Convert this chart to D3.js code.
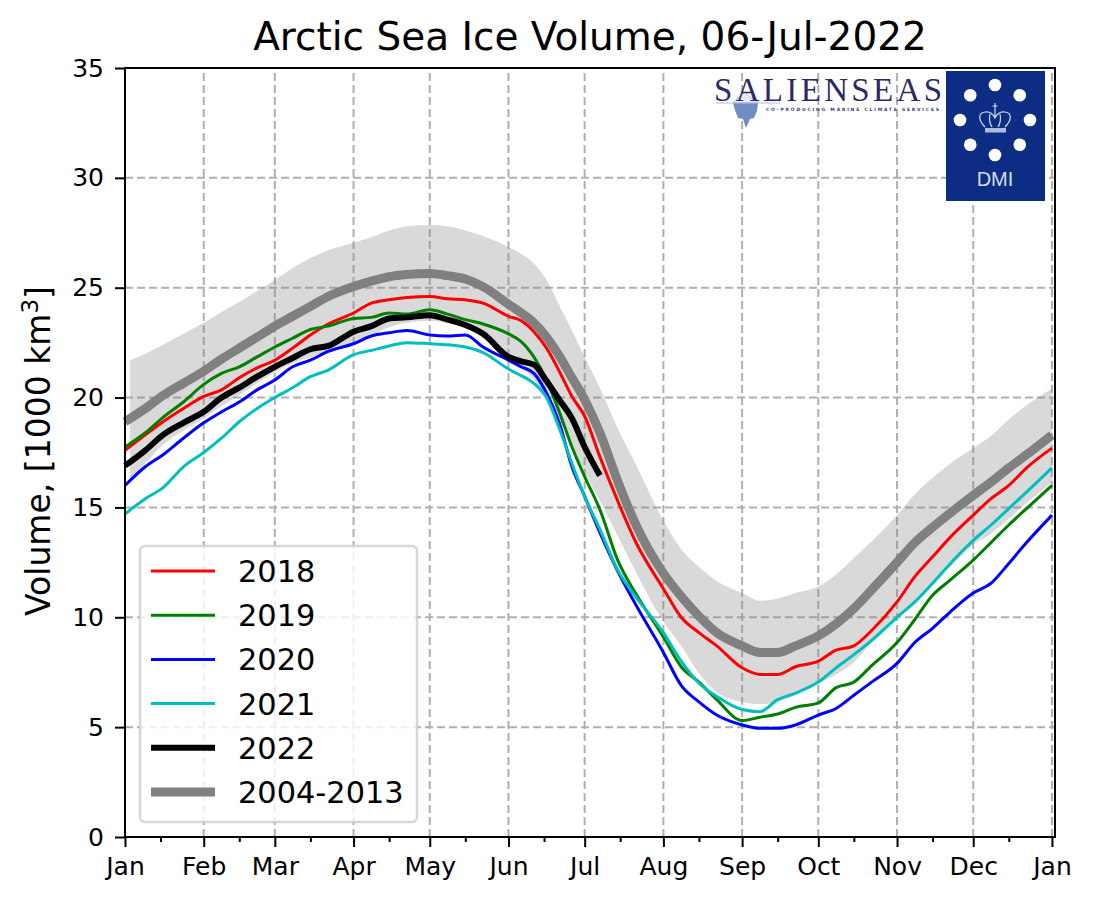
<!DOCTYPE html>
<html>
<head>
<meta charset="utf-8">
<script src="https://cdn.jsdelivr.net/npm/d3@7"></script>
<style>
  html, body { margin: 0; padding: 0; background: #fff; }
  svg { display: block; }
  text { font-family: "DejaVu Sans", sans-serif; fill: #000; }
</style>
</head>
<body>
<div id="chart"></div>
<script>
// day of year for every sample
const days = [0,8,15,23,31,38,45,52,59,66,73,80,90,97,104,111,120,127,134,141,151,156,161,166,171,176,181,187,194,201,212,219,226,233,243,250,257,264,273,280,287,294,304,311,318,325,334,341,348,355,365];
const bandDays = [2].concat(days.slice(1));

const vol2018 = [17.6,18.3,18.9,19.5,20.05,20.35,20.9,21.35,21.7,22.25,22.85,23.35,23.85,24.3,24.45,24.55,24.6,24.5,24.45,24.3,23.7,23.5,23.0,22.25,21.2,20.05,19.15,17.3,15.3,13.45,11.3,10.0,9.3,8.7,7.7,7.4,7.4,7.75,8.0,8.5,8.7,9.4,10.7,11.85,12.75,13.65,14.65,15.4,16.0,16.8,17.7];
const vol2019 = [17.75,18.4,19.1,19.8,20.6,21.1,21.4,21.85,22.3,22.7,23.1,23.25,23.6,23.65,23.85,23.8,24.0,23.8,23.55,23.35,22.9,22.55,21.85,20.8,19.35,17.75,16.4,14.9,12.6,11.1,9.1,7.75,7.05,6.25,5.3,5.45,5.6,5.9,6.1,6.8,7.05,7.8,8.85,9.9,11.0,11.7,12.6,13.4,14.2,14.95,16.0];
const vol2020 = [16.0,16.85,17.4,18.15,18.85,19.35,19.8,20.35,20.8,21.4,21.7,22.1,22.45,22.8,22.95,23.05,22.85,22.8,22.85,22.3,21.7,21.4,21.1,20.2,18.85,16.85,15.5,13.85,12.1,10.6,8.4,6.9,6.15,5.55,5.1,4.95,4.95,5.1,5.55,5.85,6.45,7.05,7.9,8.85,9.5,10.25,11.1,11.55,12.45,13.4,14.65];
const vol2021 = [14.7,15.4,15.9,16.85,17.5,18.15,18.9,19.5,20.0,20.45,20.95,21.25,21.95,22.15,22.35,22.5,22.45,22.4,22.3,22.05,21.3,21.0,20.65,20.0,18.6,17.0,15.5,14.0,12.15,10.95,9.3,8.0,7.0,6.4,5.8,5.7,6.25,6.55,7.05,7.7,8.3,8.95,10.0,10.7,11.55,12.45,13.5,14.2,14.95,15.7,16.8];
const vol2022 = [16.9,17.6,18.3,18.85,19.35,20.0,20.45,20.95,21.4,21.8,22.2,22.35,23.0,23.25,23.6,23.65,23.75,23.55,23.3,22.9,21.85,21.65,21.5,20.75,19.9,19.05,17.75,16.45];
const volMean = [18.9,19.5,20.1,20.65,21.2,21.75,22.25,22.75,23.25,23.7,24.15,24.6,25.05,25.3,25.5,25.6,25.65,25.55,25.4,25.05,24.25,23.85,23.4,22.75,21.9,20.9,19.9,18.4,16.2,14.25,12.0,10.95,10.05,9.3,8.7,8.4,8.4,8.7,9.15,9.7,10.4,11.25,12.5,13.4,14.1,14.75,15.55,16.15,16.8,17.4,18.3];
const bandUpper = [21.7,22.0,22.4,22.9,23.4,23.9,24.35,24.85,25.35,25.9,26.35,26.7,27.05,27.3,27.6,27.8,27.85,27.8,27.6,27.35,26.85,26.55,26.1,25.35,24.2,23.05,21.85,20.45,18.6,17.0,14.4,13.1,12.3,11.65,11.1,10.75,10.85,11.1,11.4,11.95,12.7,13.45,14.65,15.6,16.35,17.0,17.7,18.25,19.0,19.65,20.4];
const bandLower = [16.2,17.0,17.85,18.5,19.05,19.6,20.1,20.65,21.15,21.55,21.85,22.1,22.5,22.85,23.2,23.4,23.5,23.4,23.2,22.7,21.9,21.4,20.8,20.0,19.0,17.8,16.6,15.3,13.7,12.1,9.8,8.7,7.45,6.6,6.15,6.05,6.15,6.45,7.0,7.4,7.95,8.85,10.0,10.8,11.55,12.3,13.3,13.8,14.5,15.2,16.15];

const monthDays = [0,31,59,90,120,151,181,212,243,273,304,334,365];
const monthLabels = ["Jan","Feb","Mar","Apr","May","Jun","Jul","Aug","Sep","Oct","Nov","Dec","Jan"];
const midMonthDays = [14,45,73,104,134,165,195,226,257,287,318,348];
const yTicks = [0,5,10,15,20,25,30,35];

const seriesNames = ["2018","2019","2020","2021","2022","2004-2013"];
const seriesValues = [vol2018,vol2019,vol2020,vol2021,vol2022,volMean];
const seriesColors = ["#ff0000","#008000","#0000ff","#00bfbf","#000000","#808080"];
const seriesWidths = [3,3,3,3,6,9];

const width = 1093, height = 904;
const margin = { top: 68, right: 38, bottom: 67, left: 125 };

const svg = d3.select("#chart").append("svg")
  .attr("width", width)
  .attr("height", height);

const x = d3.scaleLinear().domain([0, 366.2]).range([margin.left, width - margin.right]);
const y = d3.scaleLinear().domain([0, 35]).range([height - margin.bottom, margin.top]);

// grid
const grid = svg.append("g").attr("stroke", "#b0b0b0").attr("stroke-width", 2).attr("stroke-dasharray", "8 4");
grid.selectAll(".gx").data(monthDays).enter().append("line")
  .attr("x1", d => x(d)).attr("x2", d => x(d))
  .attr("y1", y(0)).attr("y2", y(35));
grid.selectAll(".gy").data(yTicks).enter().append("line")
  .attr("x1", x(0)).attr("x2", x(366.2))
  .attr("y1", d => y(d)).attr("y2", d => y(d));

// 2004-2013 spread
const area = d3.area()
  .x((d, i) => x(bandDays[i]))
  .y0(d => y(d))
  .y1((d, i) => y(bandUpper[i]))
  .curve(d3.curveMonotoneX);
svg.append("path")
  .datum(bandLower)
  .attr("d", area)
  .attr("fill", "#808080")
  .attr("fill-opacity", 0.3);

const line = d3.line()
  .x((d, i) => x(days[i]))
  .y(d => y(d))
  .curve(d3.curveMonotoneX);

// drawn with the mean below the yearly curves
const order = [5,0,1,2,3,4];
order.forEach(k => {
  svg.append("path")
    .datum(seriesValues[k])
    .attr("d", line)
    .attr("fill", "none")
    .attr("stroke", seriesColors[k])
    .attr("stroke-width", seriesWidths[k])
    .attr("stroke-linejoin", "round");
});

// axes
const xAxis = d3.axisBottom(x)
  .tickValues(monthDays)
  .tickFormat((d, i) => monthLabels[i])
  .tickSize(10)
  .tickPadding(10);
const xMinor = d3.axisBottom(x)
  .tickValues(midMonthDays)
  .tickFormat("")
  .tickSize(5);
const yAxis = d3.axisLeft(y)
  .tickValues(yTicks)
  .tickSize(10)
  .tickPadding(11);

const gx = svg.append("g").attr("transform", `translate(0, ${y(0)})`).call(xAxis);
const gm = svg.append("g").attr("transform", `translate(0, ${y(0)})`).call(xMinor);
const gy = svg.append("g").attr("transform", `translate(${x(0)}, 0)`).call(yAxis);
[gx, gm, gy].forEach(g => {
  g.select(".domain").remove();
  g.selectAll("line").attr("stroke", "#000").attr("stroke-width", 2);
  g.selectAll("text").attr("font-size", 25).attr("font-family", "DejaVu Sans");
});

// frame
svg.append("rect")
  .attr("x", x(0)).attr("y", y(35))
  .attr("width", x(366.2) - x(0)).attr("height", y(0) - y(35))
  .attr("fill", "none").attr("stroke", "#000").attr("stroke-width", 2);

// title and y label
svg.append("text")
  .attr("x", 590).attr("y", 50)
  .attr("text-anchor", "middle")
  .attr("font-size", 39)
  .text("Arctic Sea Ice Volume, 06-Jul-2022");

const yLabel = svg.append("text")
  .attr("transform", "translate(50, 451) rotate(-90)")
  .attr("text-anchor", "middle")
  .attr("font-size", 33);
yLabel.append("tspan").text("Volume, [1000 km");
yLabel.append("tspan").attr("dy", -12).attr("font-size", 23).text("3");
yLabel.append("tspan").attr("dy", 12).text("]");

// legend
const legend = svg.append("g");
legend.append("rect")
  .attr("x", 140).attr("y", 546)
  .attr("width", 277).attr("height", 276)
  .attr("rx", 5)
  .attr("fill", "#fff").attr("fill-opacity", 0.8)
  .attr("stroke", "#cccccc").attr("stroke-opacity", 0.8).attr("stroke-width", 2.5);
const legendRow = d3.scalePoint().domain(seriesNames).range([571, 792]);
seriesNames.forEach((name, k) => {
  legend.append("line")
    .attr("x1", 151).attr("x2", 215)
    .attr("y1", legendRow(name)).attr("y2", legendRow(name))
    .attr("stroke", seriesColors[k])
    .attr("stroke-width", seriesWidths[k]);
  legend.append("text")
    .attr("x", 238).attr("y", legendRow(name) + 11)
    .attr("font-size", 30.4)
    .text(name);
});

// SALIENSEAS logo
const sal = svg.append("g");
sal.append("path")
  .attr("d", "M733,103 L758,103 L757,111 L754,118 L750,119 L746,128 L743,119 L738,118 L735,110 Z")
  .attr("fill", "#6f8dc2");
sal.append("path")
  .attr("d", "M733,103 L739,97 L745,92 L750,97 L755,99 L758,103 Z")
  .attr("fill", "#e6ebf4").attr("stroke", "#8fa5cd").attr("stroke-width", 0.7);
sal.append("line")
  .attr("x1", 716).attr("x2", 780).attr("y1", 103).attr("y2", 103)
  .attr("stroke", "#aebbd8").attr("stroke-width", 1);
sal.append("text")
  .attr("x", 714).attr("y", 101)
  .attr("textLength", 228).attr("lengthAdjust", "spacing")
  .style("font-family", "'Liberation Serif', serif")
  .style("fill", "#2b2a66")
  .attr("font-size", 33)
  .text("SALIENSEAS");
sal.append("text")
  .attr("x", 766).attr("y", 111)
  .attr("textLength", 173).attr("lengthAdjust", "spacing")
  .style("fill", "#3b3a70")
  .attr("font-size", 4.5)
  .attr("font-weight", "bold")
  .text("CO-PRODUCING MARINE CLIMATE SERVICES");

// DMI logo
const dmi = svg.append("g");
dmi.append("rect")
  .attr("x", 946).attr("y", 71).attr("width", 99).attr("height", 130)
  .attr("fill", "#0c2d83");
const dotAngles = d3.range(8).map(i => i * Math.PI / 4);
dmi.selectAll("circle").data(dotAngles).enter().append("circle")
  .attr("cx", d => 995 + 35 * Math.sin(d))
  .attr("cy", d => 120 - 35 * Math.cos(d))
  .attr("r", 6.3)
  .attr("fill", "#fff");
dmi.append("path")
  .attr("d", "M985,127 C978,120 978,113 985,112 C990,111 993,114 995,118 C997,114 1000,111 1005,112 C1012,113 1012,120 1005,127 M995,110 L995,118 M990,114 C989,119 990,124 992,127 M1000,114 C1001,119 1000,124 998,127 M995,103 L995,110 M992.5,106 L997.5,106")
  .attr("fill", "none").attr("stroke", "#d5dcee").attr("stroke-width", 1.2);
dmi.append("rect")
  .attr("x", 985).attr("y", 128).attr("width", 21).attr("height", 4.5)
  .attr("fill", "#aebce0");
dmi.append("text")
  .attr("x", 995).attr("y", 186)
  .attr("text-anchor", "middle")
  .style("fill", "#d5dcee")
  .attr("font-size", 20)
  .style("font-family", "'Liberation Sans', sans-serif")
  .text("DMI");
</script>
</body>
</html>
